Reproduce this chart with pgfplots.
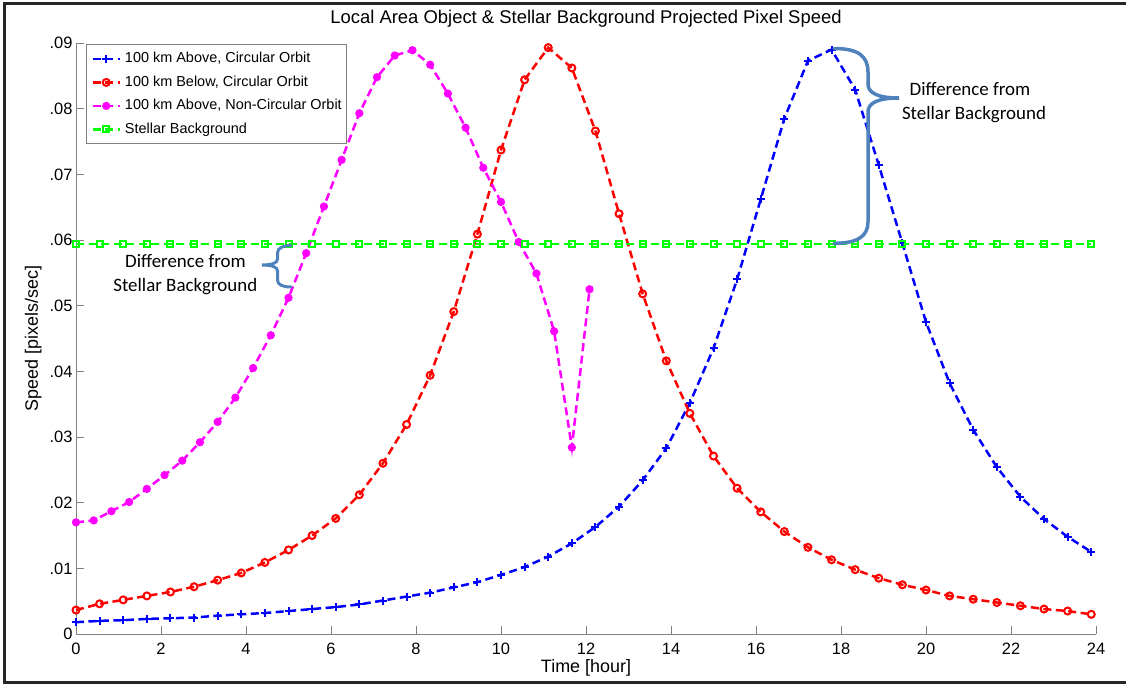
\documentclass[border=0pt]{standalone}
\usepackage{fontspec}
\setmainfont{Liberation Sans}
\newfontfamily\calibri{Carlito}
\usepackage{pgfplots}
\pgfplotsset{compat=1.18}
\definecolor{bracecol}{RGB}{79,129,189}
\definecolor{axgray}{RGB}{128,128,128}
\definecolor{mblue}{RGB}{0,0,255}
\definecolor{mred}{RGB}{255,0,0}
\definecolor{mmag}{RGB}{255,0,255}
\definecolor{mgreen}{RGB}{0,255,0}

\begin{document}
\begin{tikzpicture}
\path[use as bounding box] (0,0) rectangle (1126bp,-685bp);
\begin{axis}[
  at={(76bp,-634bp)}, anchor=south west,
  scale only axis, width=1020bp, height=591bp,
  xmin=0, xmax=24, ymin=0, ymax=0.09,
  axis lines*=left,
  axis line style={axgray, line width=1bp},
  tick align=inside, major tick length=8bp,
  tick style={axgray, line width=1bp},
  scaled y ticks=false,
  xtick={0,2,4,6,8,10,12,14,16,18,20,22,24},
  xticklabels={0,2,4,6,8,10,12,14,16,18,20,22,24},
  ytick={0,0.01,0.02,0.03,0.04,0.05,0.06,0.07,0.08,0.09},
  yticklabels={0,.01,.02,.03,.04,.05,.06,.07,.08,.09},
  tick label style={font=\fontsize{16.5}{20}\selectfont},
  xticklabel style={yshift=-5.5bp},
  title={Local Area Object \& Stellar Background Projected Pixel Speed},
  title style={at={(0.5,1.0225)}, anchor=base, font=\fontsize{18.5}{22}\selectfont},
  xlabel={Time [hour]},
  xlabel style={at={(0.5,-0.0643)}, anchor=base, font=\fontsize{18}{22}\selectfont},
  ylabel={Speed [pixels/sec]},
  ylabel style={at={(-0.0373,0.5)}, anchor=base, font=\fontsize{18}{22}\selectfont},
  clip=false,
  legend style={at={(0.0098,0.998)}, anchor=north west, draw=axgray, line width=1bp,
    fill=white, inner xsep=5bp, inner ysep=7.5bp, row sep=10bp,
    font=\fontsize{14.5}{17}\selectfont,
    nodes={inner sep=0bp, text height=10.5bp, text depth=3bp},
    /tikz/every odd column/.append style={column sep=4bp}},
  legend cell align=left,
  legend image code/.code={\draw[mark repeat=2,mark phase=2,#1] plot coordinates {(0bp,0bp)(13.5bp,0bp)(27bp,0bp)};},
]
% 100 km above, circular orbit
\addplot[mblue, line width=2.5bp, dash pattern=on 8bp off 4.5bp, mark=+, mark size=4bp, mark options={solid, line width=2bp}] coordinates {
(0,0.0018)(0.5556,0.0020)(1.1111,0.0021)(1.6667,0.0023)(2.2222,0.0024)(2.7778,0.0025)
(3.3333,0.0028)(3.8889,0.0030)(4.4444,0.0032)(5.0,0.0035)(5.5556,0.0038)(6.1111,0.0041)
(6.6667,0.0045)(7.2222,0.0051)(7.7778,0.0057)(8.3333,0.0063)(8.8889,0.0071)(9.4444,0.0079)
(10.0,0.0090)(10.5556,0.0102)(11.1111,0.0118)(11.6667,0.0138)(12.2222,0.0163)(12.7778,0.0194)
(13.3333,0.0234)(13.8889,0.0283)(14.4444,0.0352)(15.0,0.0435)(15.5556,0.0540)(16.1111,0.0662)
(16.6667,0.0785)(17.2222,0.0873)(17.7778,0.0890)(18.3333,0.0829)(18.8889,0.0714)(19.4444,0.0595)
(20.0,0.0475)(20.5556,0.0382)(21.1111,0.0311)(21.6667,0.0254)(22.2222,0.0209)(22.7778,0.0175)
(23.3333,0.0148)(23.8889,0.0125)};
\addlegendentry{100 km Above, Circular Orbit}
% 100 km below, circular orbit
\addplot[mred, line width=2.5bp, dash pattern=on 8bp off 4.5bp, mark=o, mark size=3.5bp, mark options={solid, line width=2bp}] coordinates {
(0,0.00365)(0.5556,0.0046)(1.1111,0.0052)(1.6667,0.0058)(2.2222,0.0064)(2.7778,0.0072)
(3.3333,0.0082)(3.8889,0.0093)(4.4444,0.0109)(5.0,0.0128)(5.5556,0.0150)(6.1111,0.0176)
(6.6667,0.0212)(7.2222,0.0260)(7.7778,0.0319)(8.3333,0.0394)(8.8889,0.0491)(9.4444,0.0609)
(10.0,0.0737)(10.5556,0.0844)(11.1111,0.0893)(11.6667,0.0862)(12.2222,0.0766)(12.7778,0.0640)
(13.3333,0.0518)(13.8889,0.0416)(14.4444,0.0336)(15.0,0.0271)(15.5556,0.0222)(16.1111,0.0186)
(16.6667,0.0156)(17.2222,0.0132)(17.7778,0.0113)(18.3333,0.0098)(18.8889,0.0085)(19.4444,0.0075)
(20.0,0.0067)(20.5556,0.0058)(21.1111,0.0053)(21.6667,0.0048)(22.2222,0.0043)(22.7778,0.0038)
(23.3333,0.0035)(23.8889,0.0030)};
\addlegendentry{100 km Below, Circular Orbit}
% 100 km above, non-circular orbit
\addplot[mmag, line width=2.5bp, dash pattern=on 8bp off 4.5bp, mark=*, mark size=2.8bp, mark options={solid, fill=mmag}] coordinates {
(0,0.0170)(0.4167,0.0173)(0.8333,0.0187)(1.25,0.0201)(1.6667,0.0221)(2.0833,0.0242)
(2.5,0.0264)(2.9167,0.0292)(3.3333,0.0323)(3.75,0.0360)(4.1667,0.0405)(4.5833,0.0455)
(5.0,0.0512)(5.4167,0.0580)(5.8333,0.0651)(6.25,0.0722)(6.6667,0.0793)(7.0833,0.0848)
(7.5,0.0881)(7.9167,0.0889)(8.3333,0.0867)(8.75,0.0823)(9.1667,0.0771)(9.5833,0.0710)
(10.0,0.0658)(10.4167,0.0597)(10.8333,0.0549)(11.25,0.0461)(11.6667,0.0284)(12.0833,0.0525)};
\addlegendentry{100 km Above, Non-Circular Orbit}
% stellar background
\addplot[mgreen, line width=2.5bp, dash pattern=on 8bp off 4.5bp, mark=square, mark size=3bp, mark options={solid, line width=2bp}] coordinates {
(0,0.0594)(0.5556,0.0594)(1.1111,0.0594)(1.6667,0.0594)(2.2222,0.0594)(2.7778,0.0594)
(3.3333,0.0594)(3.8889,0.0594)(4.4444,0.0594)(5.0,0.0594)(5.5556,0.0594)(6.1111,0.0594)
(6.6667,0.0594)(7.2222,0.0594)(7.7778,0.0594)(8.3333,0.0594)(8.8889,0.0594)(9.4444,0.0594)
(10.0,0.0594)(10.5556,0.0594)(11.1111,0.0594)(11.6667,0.0594)(12.2222,0.0594)(12.7778,0.0594)
(13.3333,0.0594)(13.8889,0.0594)(14.4444,0.0594)(15.0,0.0594)(15.5556,0.0594)(16.1111,0.0594)
(16.6667,0.0594)(17.2222,0.0594)(17.7778,0.0594)(18.3333,0.0594)(18.8889,0.0594)(19.4444,0.0594)
(20.0,0.0594)(20.5556,0.0594)(21.1111,0.0594)(21.6667,0.0594)(22.2222,0.0594)(22.7778,0.0594)
(23.3333,0.0594)(23.8889,0.0594)};
\addlegendentry{Stellar Background}
\end{axis}
% frame and annotations, in pixel units of the reference
\begin{scope}[x=1bp, y=-1bp]
\draw[black!85, line width=3bp] (1126,3.5) -- (4.5,3.5) -- (4.5,682.5) -- (1126,682.5);
\draw[bracecol, line width=3.5bp, line cap=round] (834,48.5) .. controls (858,48.5) and (868,56) .. (868,72)
  -- (868,84) .. controls (868,93) and (878,98) .. (899,98)
  .. controls (878,98) and (868,103) .. (868,112)
  -- (868,222) .. controls (868,236) and (858,243.3) .. (834,243.3);
\draw[bracecol, line width=3bp, line cap=round] (291,245.5) .. controls (283,245.5) and (277.5,248) .. (277.5,253)
  -- (277.5,259) .. controls (277.5,263) and (272,265) .. (262,265)
  .. controls (272,265) and (277.5,267) .. (277.5,271)
  -- (277.5,280) .. controls (277.5,285) and (283,287) .. (291,287);
\node[font=\calibri\fontsize{19}{23}\selectfont, anchor=base] at (970,95) {Difference from};
\node[font=\calibri\fontsize{19}{23}\selectfont, anchor=base] at (974,119.3) {Stellar Background};
\node[font=\calibri\fontsize{19}{23}\selectfont, anchor=base] at (185.5,267.3) {Difference from};
\node[font=\calibri\fontsize{19}{23}\selectfont, anchor=base] at (185.3,291.7) {Stellar Background};
\end{scope}
\end{tikzpicture}
\end{document}
